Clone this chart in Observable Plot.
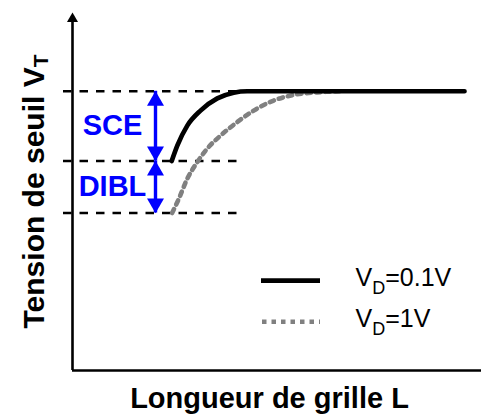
<!DOCTYPE html>
<html>
<head>
<meta charset="utf-8">
<script src="https://cdn.jsdelivr.net/npm/d3@7"></script>
<script src="https://cdn.jsdelivr.net/npm/@observablehq/plot@0.6"></script>
<style>
  html, body { margin: 0; padding: 0; background: #fff; }
</style>
</head>
<body>
<div id="chart"></div>
<script>
// ---- data (arbitrary units: L along x, V_T along y) ----
const L_low = [2.48, 2.62, 2.87, 3.2, 3.62, 4.03, 4.37, 9.8];          // V_D = 0.1 V
const VT_low = [5.85, 6.28, 6.84, 7.26, 7.6, 7.76, 7.8, 7.8];
const L_high = [2.49, 2.66, 2.87, 3.12, 3.37, 3.70, 4.12, 4.53, 5.03, 5.53, 6.12, 6.7]; // V_D = 1 V
const VT_high = [4.4, 4.80, 5.36, 5.82, 6.20, 6.56, 6.94, 7.26, 7.54, 7.70, 7.77, 7.8];
const levels = [7.8, 5.85, 4.4];           // long-channel V_T, short-channel V_T (low V_D), (high V_D)
const effectNames = ["SCE", "DIBL"];
const seriesLabels = ["V_D=0.1V", "V_D=1V"];
const xTitle = "Longueur de grille L";
const yTitle = "Tension de seuil V_T";

const FONT = "'Liberation Sans', Arial, Helvetica, sans-serif";

const low = L_low.map((x, i) => ({x, y: VT_low[i]}));
const high = L_high.map((x, i) => ({x, y: VT_high[i]}));
const arrowX = 2.075;
const effects = effectNames.map((name, i) => ({name, top: levels[i], bottom: levels[i + 1]}));
const legendRows = [
  {label: seriesLabels[0], y: 2.51},
  {label: seriesLabels[1], y: 1.36}
];

const plot = Plot.plot({
  width: 481,
  height: 414,
  marginLeft: 72,
  marginRight: 9,
  marginTop: 12,
  marginBottom: 44,
  x: {domain: [0, 10], axis: null},
  y: {domain: [0, 10], axis: null},
  style: {fontFamily: FONT, background: "white", overflow: "visible"},
  marks: [
    // reference levels
    Plot.ruleY(levels, {x1: -0.225, x2: 4.27, stroke: "black", strokeWidth: 2.6, strokeDasharray: "8.5,8"}),
    // axes
    Plot.ruleX([0], {y1: 0, y2: 9.75, stroke: "black", strokeWidth: 2.6}),
    Plot.ruleY([0], {x1: 0, x2: 10.4, stroke: "black", strokeWidth: 2.6}),
    Plot.dot([{x: 0, y: 10}], {x: "x", y: "y", symbol: "triangle", r: 4.1, fill: "black", stroke: null, dy: 6.3}),
    // curves
    Plot.line(high, {x: "x", y: "y", curve: "monotone-x", stroke: "#808080", strokeWidth: 4.6, strokeDasharray: "4.5,5"}),
    Plot.line(low, {x: "x", y: "y", curve: "monotone-x", stroke: "black", strokeWidth: 4.7}),
    // blue double arrows
    Plot.ruleX(effects, {x: () => arrowX, y1: "top", y2: "bottom", stroke: "#0000ff", strokeWidth: 3.4}),
    Plot.dot(effects, {x: () => arrowX, y: "top", symbol: "triangle", r: 6.3, fill: "#0000ff", stroke: null, dy: 9.6}),
    Plot.dot(effects, {x: () => arrowX, y: "bottom", symbol: "triangle", rotate: 180, r: 6.3, fill: "#0000ff", stroke: null, dy: -9.6}),
    Plot.text(effects, {x: () => 1.0, y: d => (d.top + d.bottom) / 2, text: "name", fill: "#0000ff",
      fontSize: 29, fontWeight: "bold", textAnchor: "middle"}),
    // legend
    Plot.ruleY(legendRows.slice(0, 1), {y: "y", x1: 4.725, x2: 6.2, stroke: "black", strokeWidth: 4.7}),
    Plot.ruleY(legendRows.slice(1), {y: "y", x1: 4.75, x2: 6.2, stroke: "#808080", strokeWidth: 4.6, strokeDasharray: "4.5,5"}),
    Plot.text(legendRows, {x: () => 7.075, y: "y", text: "label", textAnchor: "start", fontSize: 25, fill: "black", dy: -2.5}),
    // axis titles
    Plot.text([xTitle], {frameAnchor: "bottom", text: d => d, fontSize: 29, fontWeight: "bold", textAnchor: "middle", lineAnchor: "bottom", dy: 37, dx: -3, fill: "black"}),
    Plot.text([yTitle], {frameAnchor: "left", text: d => d, fontSize: 30, fontWeight: "bold", textAnchor: "middle", rotate: -90, lineAnchor: "bottom", dx: -29, fill: "black"})
  ]
});

// turn "X_Y..." into real subscripts
function subscript(textEl, subSize, shift) {
  const s = textEl.textContent;
  const i = s.indexOf("_");
  if (i < 0) return;
  const before = s.slice(0, i), sub = s[i + 1], after = s.slice(i + 2);
  textEl.textContent = "";
  const ns = "http://www.w3.org/2000/svg";
  const t1 = document.createElementNS(ns, "tspan"); t1.textContent = before; textEl.appendChild(t1);
  const t2 = document.createElementNS(ns, "tspan"); t2.textContent = sub;
  t2.setAttribute("dy", shift); t2.setAttribute("font-size", subSize); textEl.appendChild(t2);
  if (after) {
    const t3 = document.createElementNS(ns, "tspan"); t3.textContent = after;
    t3.setAttribute("dy", -shift); textEl.appendChild(t3);
  }
}
plot.querySelectorAll("text").forEach(t => {
  const s = t.textContent;
  if (s === yTitle) subscript(t, 21, 4);
  else if (seriesLabels.includes(s)) subscript(t, 18, 8);
});

document.getElementById("chart").appendChild(plot);
</script>
</body>
</html>
